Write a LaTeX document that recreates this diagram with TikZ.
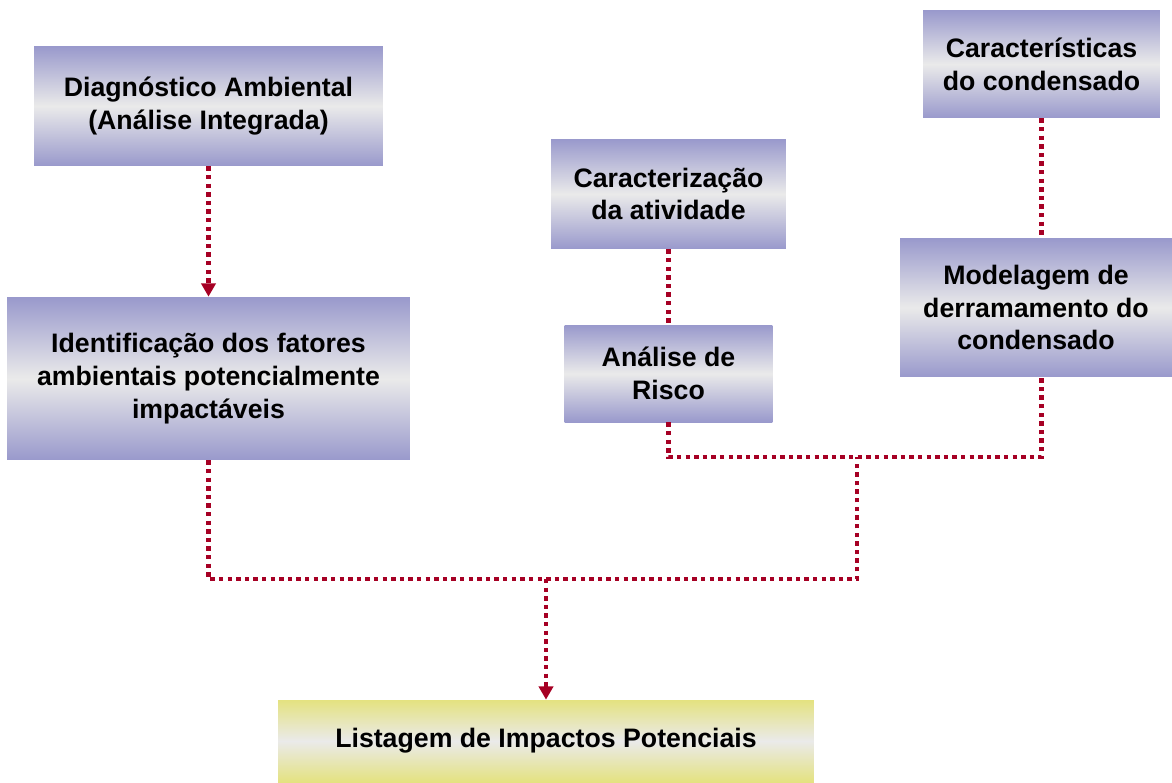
\documentclass[tikz,border=0pt]{standalone}
\usepackage{fontspec}
\setmainfont{Liberation Sans}
\usepackage{tikz}
\usetikzlibrary{arrows.meta}
\usetikzlibrary{calc}
\usetikzlibrary{positioning}

\definecolor{boxlila}{RGB}{153,153,204}
\definecolor{boxgray}{RGB}{234,234,234}
\definecolor{boxyellow}{RGB}{228,226,128}
\definecolor{linkred}{RGB}{166,0,36}

\tikzset{
  caixa/.style={inner sep=2pt, align=center, text=black,
    font=\fontsize{15.2}{18.6}\selectfont\bfseries,
    top color=boxlila, bottom color=boxlila, middle color=boxgray},
  caixafinal/.style={caixa, top color=boxyellow, bottom color=boxyellow, middle color=boxgray},
  link/.style={draw=linkred, line width=2.3pt, dash pattern=on 2.5pt off 2.4pt},
  seta/.style={link, -{Triangle[length=7.5pt,width=8pt]}}
}

\begin{document}
\begin{tikzpicture}[x=0.02cm, y=-0.02cm]
            \useasboundingbox (0,0) rectangle (1172,782);

            \draw (208.5,106) node[caixa, minimum width=6.98cm, minimum height=2.4cm]   (diag) {Diagnóstico Ambiental\\(Análise Integrada)};
            \draw (208.5,378.5) node[caixa, minimum width=8.06cm, minimum height=3.26cm] (ident) {Identificação dos fatores\\ambientais potencialmente\\impactáveis};
            \draw (668.5,194) node[caixa, minimum width=4.7cm, minimum height=2.2cm]    (ativ) {Caracterização\\da atividade};
            \draw (668.5,373.5) node[caixa, minimum width=4.16cm, minimum height=1.94cm] (risco) {Análise de\\Risco};
            \draw (1041.5,64) node[caixa, minimum width=4.74cm, minimum height=2.16cm]  (carac) {Características\\do condensado};
            \draw (1036,307.5) node[caixa, minimum width=5.44cm, minimum height=2.78cm]  (modelo) {Modelagem de\\derramamento do\\condensado};
            \draw (546,741) node[caixafinal, minimum width=10.72cm, minimum height=1.64cm] (lista) {Listagem de Impactos Potenciais};

            \coordinate (j1) at (857,457);
            \coordinate (j2) at (857,579);
            \coordinate (j3) at (546,579);

            \draw[seta] (diag) -- (ident);
            \draw[link] (ativ) -- (risco);
            \draw[link] (carac.south) -- (carac.south |- modelo.north);
            \draw[link] (risco.south) |- (j1) -| (carac.south |- modelo.south);
            \draw[link] (ident.south) |- (j2) -- (j1);
            \draw[seta] (j3) -- (lista);

            \end{tikzpicture}
\end{document}
